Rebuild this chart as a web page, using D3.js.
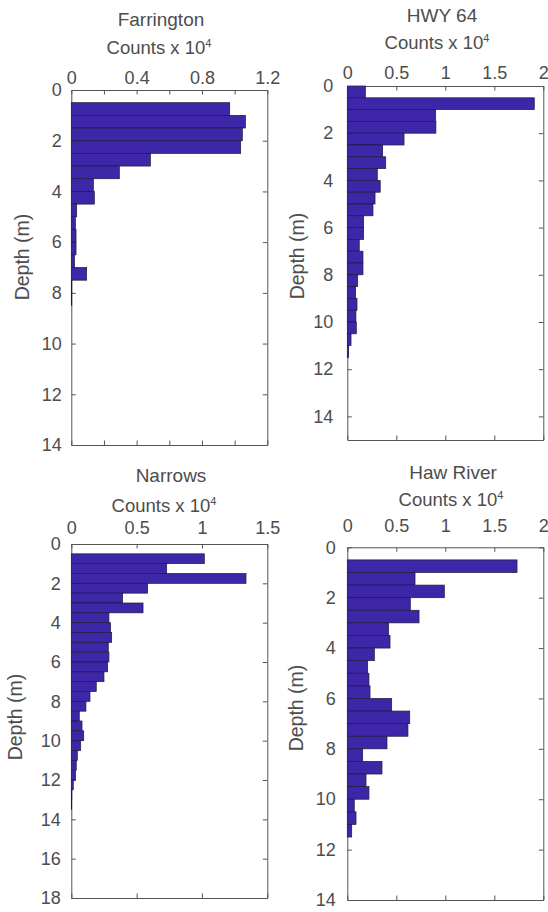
<!DOCTYPE html>
<html>
<head>
<meta charset="utf-8">
<script src="https://cdn.jsdelivr.net/npm/d3@7"></script>
<style>
  body { margin: 0; background: #fff; }
  text { font-family: "Liberation Sans", Arial, sans-serif; fill: #4d4d4d; }
</style>
</head>
<body>
<div id="chart"></div>
<script>
// depth bins (top of each 0.5 m bin) and counts (x 10^4)
var farrDepth = [0.5, 1, 1.5, 2, 2.5, 3, 3.5, 4, 4.5, 5, 5.5, 6, 6.5, 7, 7.5, 8];
var farrCounts = [0.97, 1.066, 1.047, 1.037, 0.484, 0.294, 0.135, 0.141, 0.033, 0.025,
                  0.029, 0.029, 0.02, 0.094, 0.003, 0.003];

var hwyDepth = [0, 0.5, 1, 1.5, 2, 2.5, 3, 3.5, 4, 4.5, 5, 5.5, 6, 6.5, 7, 7.5, 8, 8.5,
                9, 9.5, 10, 10.5, 11];
var hwyCounts = [0.184, 1.908, 0.902, 0.904, 0.579, 0.361, 0.392, 0.306, 0.336, 0.283,
                 0.262, 0.167, 0.167, 0.122, 0.160, 0.160, 0.106, 0.085, 0.099, 0.088,
                 0.092, 0.038, 0.014];

var narDepth = [0.5, 1, 1.5, 2, 2.5, 3, 3.5, 4, 4.5, 5, 5.5, 6, 6.5, 7, 7.5, 8, 8.5,
                9, 9.5, 10, 10.5, 11, 11.5, 12, 12.5, 13];
var narCounts = [1.018, 0.730, 1.337, 0.584, 0.393, 0.549, 0.288, 0.301, 0.309, 0.283,
                 0.288, 0.278, 0.250, 0.191, 0.143, 0.112, 0.061, 0.082, 0.095, 0.072,
                 0.046, 0.038, 0.033, 0.015, 0.004, 0.003];

var hawDepth = [0.5, 1, 1.5, 2, 2.5, 3, 3.5, 4, 4.5, 5, 5.5, 6, 6.5, 7, 7.5, 8, 8.5,
                9, 9.5, 10, 10.5, 11];
var hawCounts = [1.732, 0.691, 0.990, 0.643, 0.732, 0.422, 0.436, 0.276, 0.208, 0.221,
                 0.232, 0.453, 0.637, 0.619, 0.405, 0.157, 0.354, 0.191, 0.221, 0.071,
                 0.089, 0.045];

// tick values
var farrXTicks = [0, 0.2, 0.4, 0.6, 0.8, 1, 1.2];
var farrXLabels = ["0", "", "0.4", "", "0.8", "", "1.2"];
var halfTicks = [0, 0.5, 1, 1.5, 2];
var halfLabels = ["0", "0.5", "1", "1.5", "2"];
var narXTicks = [0, 0.5, 1, 1.5];
var narXLabels = ["0", "0.5", "1", "1.5"];
var depthTicks14 = [0, 2, 4, 6, 8, 10, 12, 14];
var depthTicks18 = [0, 2, 4, 6, 8, 10, 12, 14, 16, 18];

var binWidth = 0.5;
var barColor = "#3e26a8";
var axisColor = "#555";
var textColor = "#4d4d4d";

var svg = d3.select("#chart").append("svg")
    .attr("width", 548)
    .attr("height", 912);

// panel layout (pixel boxes)
var panels = [
  {name: "Farrington", depth: farrDepth, counts: farrCounts,
   xMax: 1.2, yMax: 14, xTicks: farrXTicks, xLabels: farrXLabels, yTicks: depthTicks14,
   left: 71.3, right: 267.3, top: 90, bottom: 445,
   titleX: 161, titleY: 26, unitX: 159, unitY: 54, tickY: 83.5,
   yLabGap: 9.5, depthX: 29, depthY: 257},
  {name: "HWY 64", depth: hwyDepth, counts: hwyCounts,
   xMax: 2, yMax: 15, xTicks: halfTicks, xLabels: halfLabels, yTicks: depthTicks14,
   left: 347.3, right: 543.3, top: 86, bottom: 440,
   titleX: 442, titleY: 21.7, unitX: 437, unitY: 48.5, tickY: 78.5,
   yLabGap: 14, depthX: 304, depthY: 256},
  {name: "Narrows", depth: narDepth, counts: narCounts,
   xMax: 1.5, yMax: 18, xTicks: narXTicks, xLabels: narXLabels, yTicks: depthTicks18,
   left: 71.3, right: 267.3, top: 544, bottom: 898,
   titleX: 171, titleY: 482, unitX: 164, unitY: 512, tickY: 533.5,
   yLabGap: 10.5, depthX: 22, depthY: 717},
  {name: "Haw River", depth: hawDepth, counts: hawCounts,
   xMax: 2, yMax: 14, xTicks: halfTicks, xLabels: halfLabels, yTicks: depthTicks14,
   left: 347.3, right: 543.3, top: 547.3, bottom: 900,
   titleX: 453, titleY: 478.5, unitX: 451, unitY: 505.5, tickY: 532,
   yLabGap: 11.5, depthX: 303, depthY: 708}
];

panels.forEach(function(p) {
  var x = d3.scaleLinear().domain([0, p.xMax]).range([p.left, p.right]);
  var y = d3.scaleLinear().domain([0, p.yMax]).range([p.top, p.bottom]);
  var g = svg.append("g");

  var rows = p.depth.map(function(d, i) { return {depth: d, count: p.counts[i]}; });

  // bars
  g.selectAll(".bar")
      .data(rows)
      .enter().append("rect")
      .attr("class", "bar")
      .attr("x", x(0))
      .attr("y", function(d) { return y(d.depth); })
      .attr("width", function(d) { return x(d.count) - x(0); })
      .attr("height", function(d) { return y(d.depth + binWidth) - y(d.depth); })
      .style("fill", barColor)
      .style("stroke", "#1c1c3a")
      .style("stroke-width", 0.7);

  // inward ticks on all four sides (matlab box)
  var tickLen = 4.5;
  function fmt(list, ticks) {
    return function(d) { return list[ticks.indexOf(d)]; };
  }
  var top = g.append("g")
      .attr("transform", "translate(0," + p.top + ")")
      .call(d3.axisTop(x).tickValues(p.xTicks).tickSize(-tickLen).tickSizeOuter(0)
            .tickFormat(fmt(p.xLabels, p.xTicks)));
  top.selectAll("text")
      .attr("y", p.tickY - p.top)
      .attr("dy", 0);
  var bottom = g.append("g")
      .attr("transform", "translate(0," + p.bottom + ")")
      .call(d3.axisBottom(x).tickValues(p.xTicks).tickSize(-tickLen).tickSizeOuter(0)
            .tickFormat(""));
  var left = g.append("g")
      .attr("transform", "translate(" + p.left + ",0)")
      .call(d3.axisLeft(y).tickValues(p.yTicks).tickSize(-tickLen).tickSizeOuter(0)
            .tickFormat(d3.format("d")));
  left.selectAll("text").attr("x", -p.yLabGap);
  var right = g.append("g")
      .attr("transform", "translate(" + p.right + ",0)")
      .call(d3.axisRight(y).tickValues(p.yTicks).tickSize(-tickLen).tickSizeOuter(0)
            .tickFormat(""));

  [top, bottom, left, right].forEach(function(a) {
    a.selectAll("path, line").style("stroke", axisColor).style("stroke-width", 1);
    a.selectAll("text").style("font-size", "18px").style("fill", textColor)
        .style("font-family", "'Liberation Sans', Arial, sans-serif");
  });
  // ticks behind the bars should not show through
  g.selectAll(".bar").raise();
  left.select(".domain").raise();

  // titles
  g.append("text")
      .attr("x", p.titleX)
      .attr("y", p.titleY)
      .attr("text-anchor", "middle")
      .style("font-size", "19px")
      .text(p.name);
  var unit = g.append("text")
      .attr("x", p.unitX)
      .attr("y", p.unitY)
      .attr("text-anchor", "middle")
      .style("font-size", "18.5px");
  unit.append("tspan").text("Counts x 10");
  unit.append("tspan")
      .attr("dy", -7)
      .style("font-size", "11px")
      .text("4");

  g.append("text")
      .attr("transform", "translate(" + p.depthX + "," + p.depthY + ") rotate(-90)")
      .attr("text-anchor", "middle")
      .style("font-size", "19.5px")
      .text("Depth (m)");
});
</script>
</body>
</html>
